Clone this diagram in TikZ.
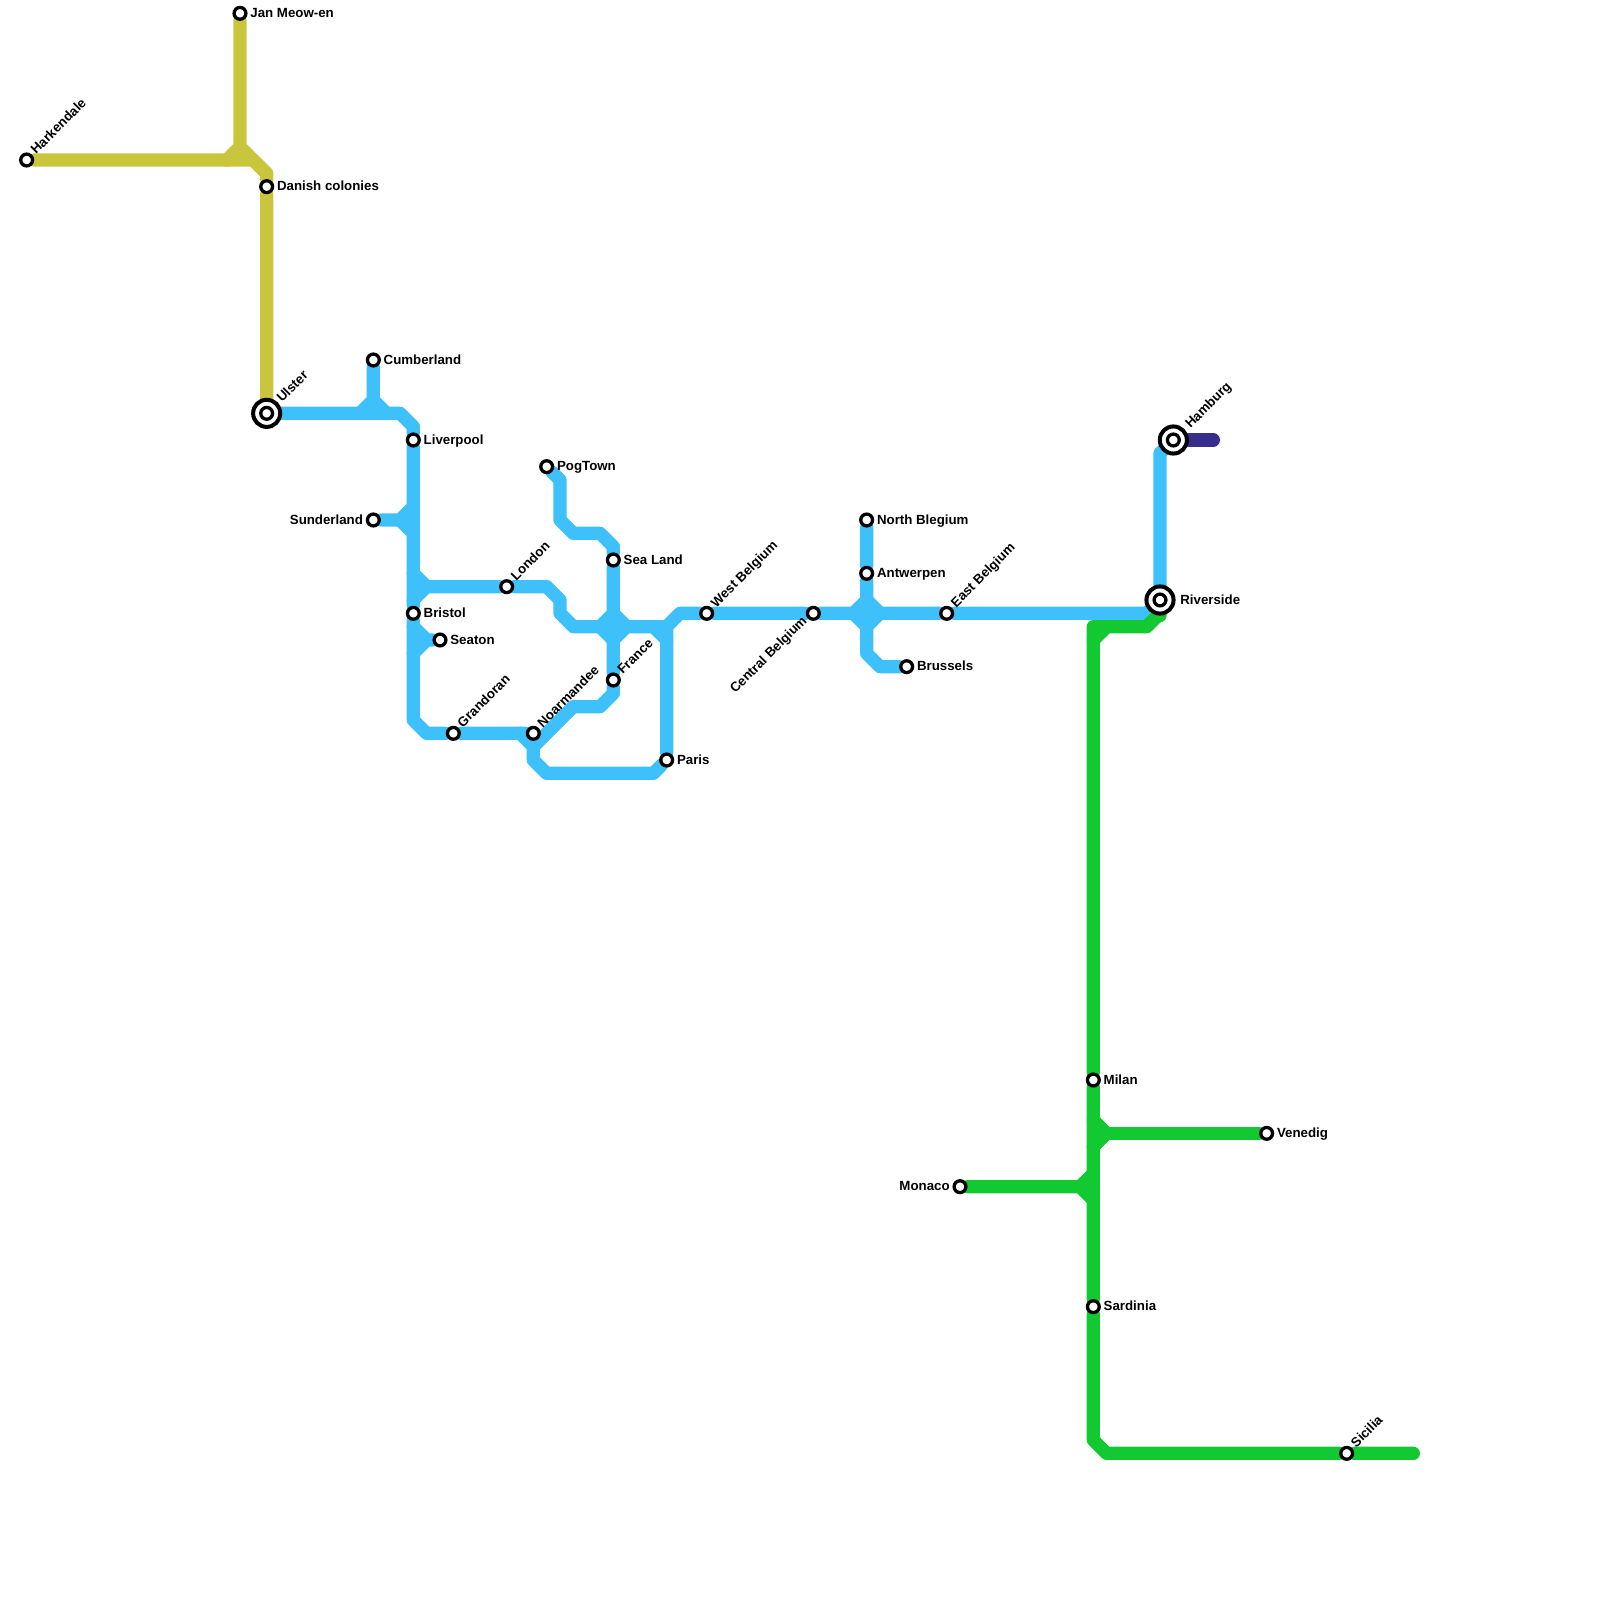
\documentclass[tikz,border=0pt]{standalone}
\usepackage{fontspec}
\setmainfont{Liberation Sans}
\usetikzlibrary{backgrounds,positioning}
\definecolor{yellowl}{RGB}{201,197,60}
\definecolor{bluel}{RGB}{62,192,251}
\definecolor{greenl}{RGB}{19,201,50}
\definecolor{navyl}{RGB}{54,45,140}
\tikzset{
  stn/.style={circle,draw=black,fill=white,line width=2.35pt,minimum size=8.4pt,inner sep=0pt},
  stnbig/.style={circle,draw=black,fill=white,line width=2.85pt,minimum size=19.3pt,inner sep=0pt},
  lbl/.style={inner sep=0pt,text height=6pt,text depth=0pt,font=\fontsize{9.45}{11}\selectfont\bfseries},
  lblup/.style={lbl,rotate=45,anchor=west},
  metro/.style={line width=9.45pt,line cap=round,line join=round}
}
\begin{document}
\begin{tikzpicture}[x=0.33333cm,y=-0.33333cm]
\useasboundingbox (0,0) rectangle (120,120);
\node[stn] (jan) at (18,1) {};
\node[stn] (har) at (2,12) {};
\node[stn] (dan) at (20,14) {};
\node[stnbig] (uls) at (20,31) {};
\node[stn] (ulsc) at (uls) {};
\node[stn] (cum) at (28,27) {};
\node[stn] (liv) at (31,33) {};
\node[stn] (sun) at (28,39) {};
\node[stn] (lon) at (38,44) {};
\node[stn] (bri) at (31,46) {};
\node[stn] (sea) at (33,48) {};
\node[stn] (gra) at (34,55) {};
\node[stn] (noa) at (40,55) {};
\node[stn] (pog) at (41,35) {};
\node[stn] (sel) at (46,42) {};
\node[stn] (fra) at (46,51) {};
\node[stn] (par) at (50,57) {};
\node[stn] (wes) at (53,46) {};
\node[stn] (cen) at (61,46) {};
\node[stn] (nor) at (65,39) {};
\node[stn] (ant) at (65,43) {};
\node[stn] (bru) at (68,50) {};
\node[stn] (eas) at (71,46) {};
\node[stnbig] (riv) at (87,45) {};
\node[stn] (rivc) at (riv) {};
\node[stnbig] (ham) at (88,33) {};
\node[stn] (hamc) at (ham) {};
\node[stn] (mil) at (82,81) {};
\node[stn] (ven) at (95,85) {};
\node[stn] (mon) at (72,89) {};
\node[stn] (sar) at (82,98) {};
\node[stn] (sic) at (101,109) {};
\coordinate (hamend) at (91,33);
\coordinate (sicend) at (106,109);
\node[lbl,right=1.8pt of jan] (janl) {Jan Meow-en};
\node[lbl,right=1.8pt of dan] (danl) {Danish colonies};
\node[lbl,right=1.8pt of cum] (cuml) {Cumberland};
\node[lbl,right=1.8pt of liv] (livl) {Liverpool};
\node[lbl,left=1.8pt of sun] (sunl) {Sunderland};
\node[lbl,right=1.8pt of bri] (bril) {Bristol};
\node[lbl,right=1.8pt of sea] (seal) {Seaton};
\node[lbl,right=1.8pt of pog] (pogl) {PogTown};
\node[lbl,right=1.8pt of sel] (sell) {Sea Land};
\node[lbl,right=1.8pt of par] (parl) {Paris};
\node[lbl,right=1.8pt of nor] (norl) {North Blegium};
\node[lbl,right=1.8pt of ant] (antl) {Antwerpen};
\node[lbl,right=1.8pt of bru] (brul) {Brussels};
\node[lbl,right=3.2pt of riv] (rivl) {Riverside};
\node[lbl,right=1.8pt of mil] (mill) {Milan};
\node[lbl,right=1.8pt of ven] (venl) {Venedig};
\node[lbl,left=1.8pt of mon] (monl) {Monaco};
\node[lbl,right=1.8pt of sar] (sarl) {Sardinia};
\node[lblup] (harl) at ([shift={(.48,-.6)}]har) {Harkendale};
\node[lblup] (ulsl) at ([shift={(.92,-1)}]uls) {Ulster};
\node[lblup] (lonl) at ([shift={(.48,-.6)}]lon) {London};
\node[lblup] (gral) at ([shift={(.48,-.6)}]gra) {Grandoran};
\node[lblup] (noal) at ([shift={(.48,-.6)}]noa) {Noarmandee};
\node[lblup] (fral) at ([shift={(.48,-.6)}]fra) {France};
\node[lblup] (wesl) at ([shift={(.48,-.6)}]wes) {West Belgium};
\node[lblup] (easl) at ([shift={(.48,-.6)}]eas) {East Belgium};
\node[lblup] (sicl) at ([shift={(.48,-.6)}]sic) {Sicilia};
\node[lblup] (haml) at ([shift={(1.05,-1.05)}]ham) {Hamburg};
\node[lbl,rotate=45,anchor=east] (cenl) at ([shift={(-.65,.4)}]cen) {Central Belgium};
\begin{scope}[on background layer]
\draw[metro,yellowl] (jan)--(18,11)--(20,13)--(dan)--(uls);
\draw[metro,yellowl] (18,11)--(17,12);
\draw[metro,yellowl] (har)--(19,12)--(20,13);
\draw[metro,bluel] (uls)--(30,31)--(31,32)--(liv)--(bri)--(31,54)--(32,55)--(gra)--(noa);
\draw[metro,bluel] (cum)--(28,30)--(27,31);
\draw[metro,bluel] (28,30)--(29,31);
\draw[metro,bluel] (sun)--(30,39)--(31,38);
\draw[metro,bluel] (30,39)--(31,40);
\draw[metro,bluel] (31,43)--(32,44)--(31,45);
\draw[metro,bluel] (32,44)--(lon)--(41,44)--(42,45)--(42,46)--(43,47)--(50,47)--(51,46)--(wes)--(cen)--(eas)--(86,46)--(riv);
\draw[metro,bluel] (sea)--(32,48)--(31,47);
\draw[metro,bluel] (32,48)--(31,49);
\draw[metro,bluel] (pog)--(42,36)--(42,39)--(43,40)--(45,40)--(46,41)--(sel)--(fra)--(46,52)--(45,53)--(43,53)--(40,56)--(40,57)--(41,58)--(49,58)--(par)--(50,47);
\draw[metro,bluel] (39,55)--(40,56);
\draw[metro,bluel] (49,47)--(50,48);
\draw[metro,bluel] (45,47)--(46,46)--(47,47)--(46,48)--cycle;
\draw[metro,bluel] (nor)--(ant)--(65,49)--(66,50)--(bru);
\draw[metro,bluel] (64,46)--(65,45)--(66,46)--(65,47)--cycle;
\draw[metro,bluel] (riv)--(87,34)--(ham);
\draw[metro,navyl] (ham)--(hamend);
\draw[metro,greenl] (riv)--(87,46)--(86,47)--(82,47)--(mil)--(sar)--(82,108)--(83,109)--(sic)--(sicend);
\draw[metro,greenl] (83,47)--(82,48);
\draw[metro,greenl] (82,84)--(83,85)--(82,86);
\draw[metro,greenl] (83,85)--(ven);
\draw[metro,greenl] (mon)--(81,89)--(82,88);
\draw[metro,greenl] (81,89)--(82,90);
\end{scope}
\end{tikzpicture}
\end{document}
